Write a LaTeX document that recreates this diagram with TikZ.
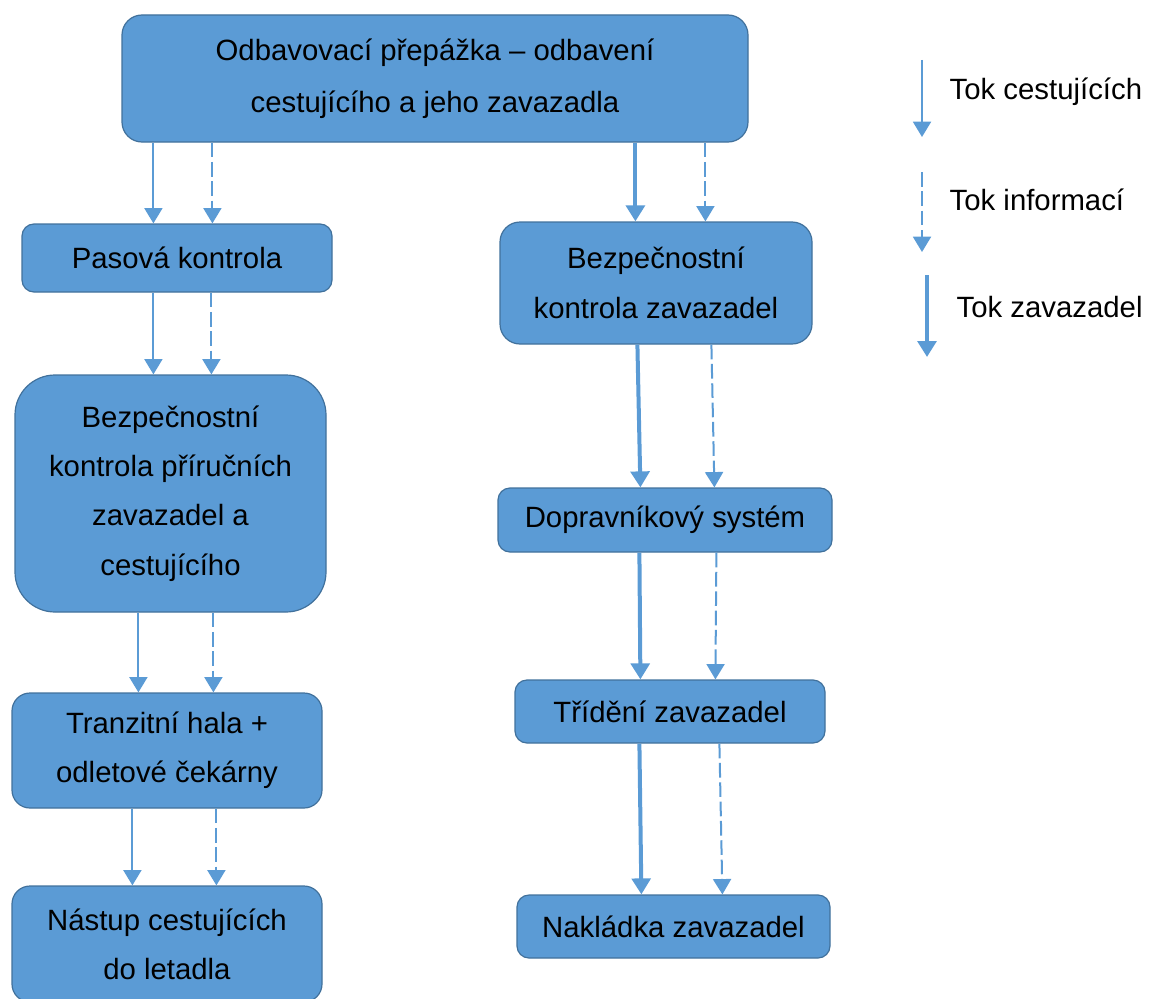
\documentclass[tikz,border=0pt]{standalone}
\usepackage{fontspec}
\setmainfont{Liberation Sans}
\usetikzlibrary{arrows.meta, calc}
\definecolor{boxblue}{HTML}{5B9BD5}
\definecolor{boxedge}{HTML}{41719C}
\definecolor{flowblue}{HTML}{5B9BD5}

\begin{document}
\begin{tikzpicture}[x=0.75pt, y=-0.75pt,
                stage/.style={draw=boxedge, line width=0.9pt, fill=boxblue, rectangle, rounded corners=9pt, align=center, inner sep=2pt, text=black, font=\fontsize{22}{37}\selectfont},
                paxflow/.style={draw=flowblue, line width=1.5pt, -{Triangle[width=13.5pt,length=11.5pt]}},
                infoflow/.style={paxflow, dash pattern=on 11pt off 3.5pt},
                bagflow/.style={draw=flowblue, line width=3pt, -{Triangle[width=14pt,length=12pt]}},
                legtext/.style={anchor=west, text=black, font=\fontsize{22}{26}\selectfont}
            ]
            \useasboundingbox (0,0) rectangle (1149,999);

            % Uzly
            \node[stage, rounded corners=15pt, minimum width=469.5pt, minimum height=95.25pt, font=\fontsize{22}{39}\selectfont] (odbav) at (435,78.5) {Odbavovací přepážka – odbavení\\cestujícího a jeho zavazadla};
            \node[stage, minimum width=232.5pt, minimum height=51pt] (pas) at (177,258) {Pasová kontrola};
            \node[stage, rounded corners=15pt, minimum width=234pt, minimum height=91.5pt] (bkz) at (656,283) {Bezpečnostní\\kontrola zavazadel};
            \node[stage, rounded corners=30pt, minimum width=233.25pt, minimum height=177.75pt] (bkp) at (170.5,493.5) {Bezpečnostní\\kontrola příručních\\zavazadel a\\cestujícího};
            \node[stage, rounded corners=13.5pt, minimum width=232.5pt, minimum height=86.25pt] (tranz) at (167,750.5) {Tranzitní hala +\\odletové čekárny};
            \node[stage, rounded corners=13.5pt, minimum width=232.5pt, minimum height=87pt] (nastup) at (167,944) {Nástup cestujících\\do letadla};
            \node[stage, minimum width=250.5pt, minimum height=48pt] (dopr) at (665,520) {Dopravníkový systém};
            \node[stage, minimum width=232.5pt, minimum height=47.25pt] (trid) at (670,711.5) {Třídění zavazadel};
            \node[stage, minimum width=234.75pt, minimum height=47.25pt] (nakl) at (673.5,926.5) {Nakládka zavazadel};

            % Toky - cestujici
            \draw[paxflow] ($(odbav.south west)+(32,0)$) -- ($(pas.north west)+(132,0)$);
            \draw[infoflow] ($(odbav.south west)+(91,0)$) -- ($(pas.north west)+(191,0)$);
            \draw[paxflow] ($(pas.south west)+(132,0)$) -- ($(bkp.north west)+(139,0)$);
            \draw[infoflow] ($(pas.south west)+(190,0)$) -- ($(bkp.north west)+(197,0)$);
            \draw[paxflow] ($(bkp.south west)+(124,0)$) -- ($(tranz.north west)+(127,0)$);
            \draw[infoflow] ($(bkp.south west)+(199,0)$) -- ($(tranz.north west)+(202,0)$);
            \draw[paxflow] ($(tranz.south west)+(121,0)$) -- ($(nastup.north west)+(121,0)$);
            \draw[infoflow] ($(tranz.south west)+(205,0)$) -- ($(nastup.north west)+(205,0)$);

            % Toky - zavazadla
            \draw[bagflow] ($(odbav.south west)+(514,0)$) -- ($(bkz.north west)+(136,0)$);
            \draw[infoflow] ($(odbav.south west)+(584,0)$) -- ($(bkz.north west)+(206,0)$);
            \draw[bagflow] ($(bkz.south west)+(138,0)$) -- ($(dopr.north west)+(143,0)$);
            \draw[infoflow] ($(bkz.south west)+(212,0)$) -- ($(dopr.north west)+(217,0)$);
            \draw[bagflow] ($(dopr.south west)+(142,0)$) -- ($(trid.north west)+(126,0)$);
            \draw[infoflow] ($(dopr.south west)+(219,0)$) -- ($(trid.north west)+(201,0)$);
            \draw[bagflow] ($(trid.south west)+(125,0)$) -- ($(nakl.north west)+(125,0)$);
            \draw[infoflow] ($(trid.south west)+(205,0)$) -- ($(nakl.north west)+(206,0)$);

            % Legenda
            \coordinate (lpax1) at (922,60);
            \coordinate (lpax2) at (922,137);
            \coordinate (linfo1) at (922,172);
            \coordinate (linfo2) at (922,252);
            \coordinate (lbag1) at (927,275);
            \coordinate (lbag2) at (927,357);
            \draw[paxflow] (lpax1) -- (lpax2);
            \draw[infoflow] (linfo1) -- (linfo2);
            \draw[bagflow] (lbag1) -- (lbag2);
            \node[legtext] (tpax) at (945,92) {Tok cestujících};
            \node[legtext] (tinfo) at (945,200) {Tok informací};
            \node[legtext] (tbag) at (952,307) {Tok zavazadel};

        \end{tikzpicture}
\end{document}
